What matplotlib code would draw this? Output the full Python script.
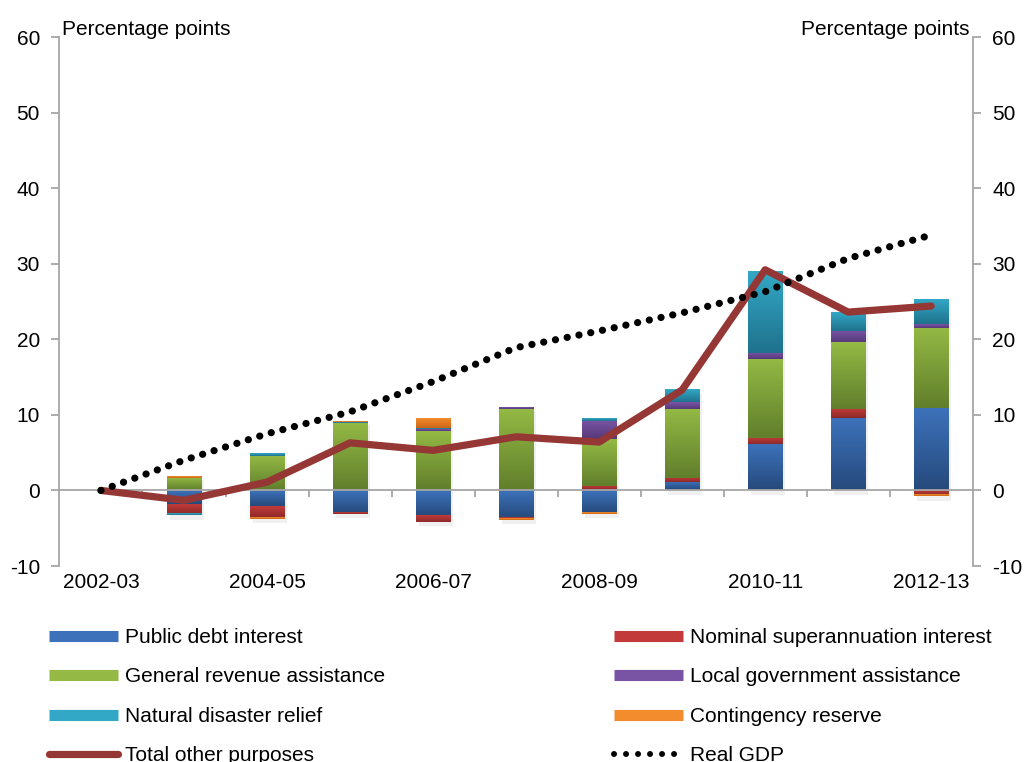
import numpy as np
import matplotlib.pyplot as plt
from matplotlib.colors import LinearSegmentedColormap
from matplotlib.lines import Line2D
import matplotlib.patheffects as pe

plt.rcParams['font.family'] = ['Liberation Sans', 'DejaVu Sans']
plt.rcParams['axes.unicode_minus'] = False

years = ['2002-03', '2003-04', '2004-05', '2005-06', '2006-07', '2007-08',
         '2008-09', '2009-10', '2010-11', '2011-12', '2012-13']

# contributions to growth, percentage points
public_debt = [0, -1.8, -2.1, -3.0, -3.4, -3.6, -3.0, 1.1, 6.1, 9.6, 10.9]
super_interest = [0, -1.3, -1.5, -0.15, -0.8, -0.15, 0.6, 0.55, 0.8, 1.2, -0.6]
general_revenue = [0, 1.7, 4.5, 8.9, 7.9, 10.8, 6.2, 9.15, 10.5, 8.8, 10.6]
local_govt = [0, 0, 0, 0, 0.2, 0.25, 2.4, 0.9, 0.8, 1.5, 0.5]
disaster_relief = [0, -0.2, 0.3, 0.2, 0.2, 0, 0.3, 1.6, 10.8, 2.5, 3.2]
contingency = [0, 0.2, -0.2, 0.1, 1.2, -0.15, -0.15, 0, 0, 0, -0.2]

total_other = [0, -1.3, 1.1, 6.3, 5.3, 7.1, 6.4, 13.3, 29.2, 23.6, 24.4]
real_gdp = [0, 4.0, 7.5, 10.4, 14.4, 18.9, 21.1, 23.5, 26.3, 30.7, 33.8]

series = [
    ('Public debt interest', public_debt, '#3d72bb', '#264a7c'),
    ('Nominal superannuation interest', super_interest, '#c23b3a', '#8c2a29'),
    ('General revenue assistance', general_revenue, '#94b944', '#617f2c'),
    ('Local government assistance', local_govt, '#7a54a4', '#563979'),
    ('Natural disaster relief', disaster_relief, '#33a8c6', '#1f728d'),
    ('Contingency reserve', contingency, '#f28c2c', '#cc6616'),
]

fig = plt.figure(figsize=(10.25, 7.62), dpi=100)
ax = fig.add_axes([0.058, 0.2572, 0.891, 0.6942])

x = np.arange(len(years))
width = 0.41
pos = np.zeros(len(years))
neg = np.zeros(len(years))
grad = np.linspace(0, 1, 64).reshape(-1, 1)

for name, vals, light, dark in series:
    vals = np.array(vals, dtype=float)
    bottoms = np.where(vals >= 0, pos, neg)
    bars = ax.bar(x, vals, width=width, bottom=bottoms, color=light, zorder=2,
                  path_effects=[pe.SimplePatchShadow(offset=(2, -3), shadow_rgbFace='k', alpha=0.06),
                                pe.Normal()])
    pos += np.where(vals > 0, vals, 0)
    neg += np.where(vals < 0, vals, 0)
    cmap = LinearSegmentedColormap.from_list(name, [dark, light])
    # vertical shading on each block
    for p in bars:
        h = p.get_height()
        if h == 0:
            continue
        y0 = p.get_y()
        ax.imshow(grad, extent=(p.get_x(), p.get_x() + p.get_width(), min(y0, y0 + h), max(y0, y0 + h)),
                  cmap=cmap, origin='lower', aspect='auto', zorder=2.1, interpolation='bilinear')

ax.plot(x, total_other, color='#953735', lw=5.2, solid_capstyle='round', solid_joinstyle='round', zorder=3)
ax.plot(x, real_gdp, color='black', lw=5.2, linestyle=(0, (0.01, 1.65)), dash_capstyle='round', zorder=4)

ax.set_xlim(-0.5, len(years) - 0.5)
ax.set_ylim(-10, 60)
ax.set_aspect('auto')

grey = '#a6a6a6'
for side in ['top', 'right']:
    ax.spines[side].set_visible(False)
ax.spines['left'].set_color(grey)
ax.spines['left'].set_linewidth(1.3)
ax.spines['bottom'].set_position(('data', 0))
ax.spines['bottom'].set_color(grey)
ax.spines['bottom'].set_linewidth(1.3)

ax.set_xticks(np.arange(0.5, len(years) - 0.5, 1))
ax.set_xticklabels([])
ax.tick_params(axis='x', direction='out', length=5, color=grey, width=1.3)
ax.set_yticks(np.arange(-10, 61, 10))
ax.tick_params(axis='y', direction='out', length=6, color=grey, width=1.3, pad=8, labelsize=15)

# year labels along the bottom edge
sec = ax.secondary_xaxis(0.0)
sec.set_xticks(x[::2])
sec.set_xticklabels(years[::2], fontsize=15)
sec.tick_params(length=0, pad=5)
sec.spines['bottom'].set_visible(False)

ax2 = ax.twinx()
ax2.set_ylim(-10, 60)
ax2.set_yticks(np.arange(-10, 61, 10))
for side in ['top', 'left', 'bottom']:
    ax2.spines[side].set_visible(False)
ax2.spines['right'].set_color(grey)
ax2.spines['right'].set_linewidth(1.3)
ax2.tick_params(axis='y', direction='out', length=6, color=grey, width=1.3, pad=8, labelsize=15)

ax.text(0.003, 0.997, 'Percentage points', transform=ax.transAxes, ha='left', va='bottom', fontsize=15)
ax.text(0.997, 0.997, 'Percentage points', transform=ax.transAxes, ha='right', va='bottom', fontsize=15)

def bar_handle(light):
    return Line2D([], [], color=light, lw=8, solid_capstyle='butt')

h_left = [bar_handle(series[0][2]), bar_handle(series[2][2]), bar_handle(series[4][2]),
          Line2D([], [], color='#953735', lw=5.2, solid_capstyle='round')]
l_left = [series[0][0], series[2][0], series[4][0], 'Total other purposes']
h_right = [bar_handle(series[1][2]), bar_handle(series[3][2]), bar_handle(series[5][2]),
           Line2D([], [], color='black', lw=4.3, linestyle=(0, (0.01, 2.0)), dash_capstyle='round')]
l_right = [series[1][0], series[3][0], series[5][0], 'Real GDP']

leg_kw = dict(loc='upper left', frameon=False, fontsize=15, handlelength=3.3, handletextpad=0.34,
              borderpad=0, borderaxespad=0, labelspacing=0.98)
fig.legend(h_left, l_left, bbox_to_anchor=(49 / 1025, 1 - 628 / 762), **leg_kw)
fig.legend(h_right, l_right, bbox_to_anchor=(614 / 1025, 1 - 628 / 762), **leg_kw)

fig.savefig('out.png', dpi=100)
